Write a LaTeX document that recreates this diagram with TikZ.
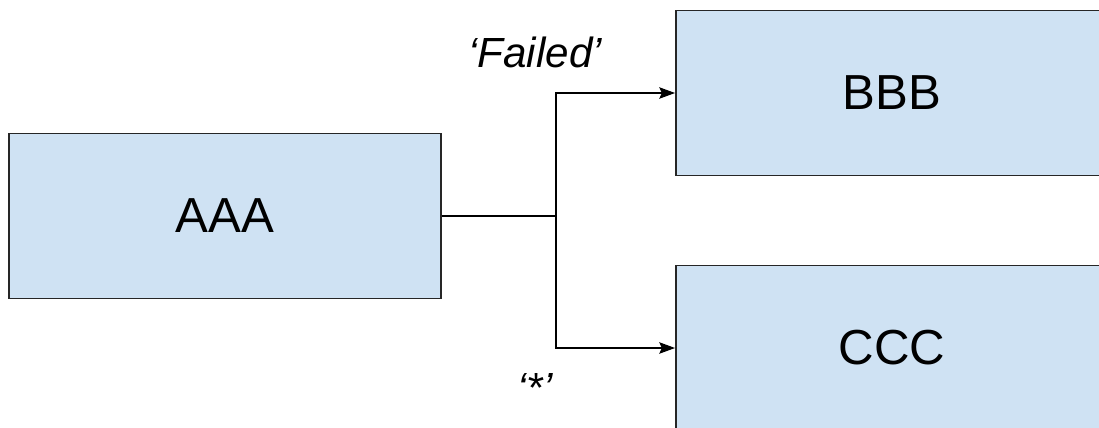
\documentclass[tikz,border=0pt]{standalone}
\usepackage{fontspec}
\setmainfont{Liberation Sans}
\usepackage{xcolor}
\definecolor{colorBox}{HTML}{CFE2F3}
\colorlet{colorEdge}{black!85}
\usetikzlibrary{arrows.meta, positioning}
\tikzset{
  block/.style={draw=colorEdge, line width=1.1pt, fill=colorBox, minimum width=8.64cm, minimum height=3.3cm, inner sep=0pt, font=\fontsize{28}{34}\selectfont},
  guard/.style={font=\fontsize{24}{29}\selectfont\itshape, inner sep=0pt, anchor=base west},
  link/.style={line width=0.85pt},
}

\begin{document}
\begin{tikzpicture}[x=0.02cm, y=0.02cm, >={Stealth[length=9pt,width=6.5pt,inset=1.5pt]}]
\useasboundingbox (0,0) rectangle (1099,427);
\clip (0,0) rectangle (1099,427);
\node[block] (aaa) at (225,211) {AAA};
\node[block] (bbb) at (892,334) {BBB};
\node[block] (ccc) at (892,79) {CCC};
\coordinate (split) at (556,211);
\draw[link] (aaa) -- (split);
\draw[link, ->] (split) |- (bbb);
\draw[link, ->] (split) |- (ccc);
% guards on the two branches
\node[guard] (failed) at (468,360) {‘Failed’};
\node[guard] (other) at (517,25) {‘*’};
\end{tikzpicture}
\end{document}
